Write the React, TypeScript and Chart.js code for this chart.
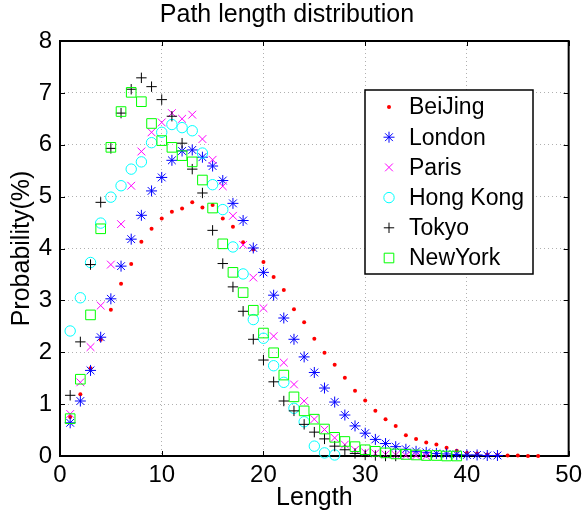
import React, { useEffect, useRef } from 'react';
import { Chart, registerables } from 'chart.js';

Chart.register(...registerables);

const cities = ['BeiJing', 'London', 'Paris', 'Hong Kong', 'Tokyo', 'NewYork'];

const beijing = [0.75, 1.19, 1.69, 2.24, 2.82, 3.32, 3.70, 4.13, 4.38, 4.58, 4.71, 4.77, 4.89, 4.79, 4.84, 4.58, 4.42, 4.12, 3.98, 3.74, 3.45, 3.20, 2.83, 2.58, 2.26, 1.99, 1.76, 1.51, 1.26, 1.07, 0.87, 0.71, 0.58, 0.40, 0.33, 0.26, 0.22, 0.16, 0.10, 0.06, 0.05, 0.03, 0.02, 0.01, 0.01, 0.0, 0.0];
const london = [0.64, 1.06, 1.65, 2.29, 3.03, 3.66, 4.18, 4.64, 5.11, 5.37, 5.70, 5.88, 5.90, 5.76, 5.59, 5.31, 4.87, 4.54, 4.01, 3.54, 3.10, 2.66, 2.25, 1.91, 1.61, 1.31, 1.04, 0.79, 0.58, 0.44, 0.32, 0.24, 0.18, 0.13, 0.09, 0.07, 0.05, 0.04, 0.03, 0.02, 0.02, 0.01, 0.01];
const paris = [0.81, 1.42, 2.10, 2.90, 3.69, 4.47, 5.21, 5.87, 6.24, 6.43, 6.61, 6.50, 6.58, 6.11, 5.71, 5.20, 4.63, 4.07, 3.44, 2.85, 2.31, 1.80, 1.38, 1.06, 0.71, 0.51, 0.35, 0.22, 0.12, 0.07, 0.05, 0.03, 0.02, 0.01, 0.01, 0.0];
const hongKong = [2.41, 3.05, 3.73, 4.49, 4.99, 5.21, 5.53, 5.67, 6.04, 6.24, 6.39, 6.33, 6.27, 5.84, 5.23, 4.75, 4.03, 3.51, 2.63, 2.27, 1.74, 1.42, 0.92, 0.66, 0.19, 0.06, 0.02];
const tokyo = [1.17, 2.20, 3.69, 4.89, 5.93, 6.61, 7.07, 7.29, 7.12, 6.87, 6.55, 6.03, 5.53, 5.07, 4.35, 3.71, 3.26, 2.79, 2.25, 1.85, 1.43, 1.06, 0.87, 0.61, 0.46, 0.33, 0.19, 0.12, 0.05, 0.02, 0.01, 0.0, 0.0];
const newYork = [0.72, 1.48, 2.72, 4.38, 5.95, 6.64, 7.01, 6.83, 6.41, 6.08, 5.95, 5.79, 5.67, 5.32, 4.78, 4.09, 3.54, 3.15, 2.81, 2.37, 1.99, 1.56, 1.14, 0.87, 0.71, 0.52, 0.36, 0.28, 0.18, 0.12, 0.09, 0.06, 0.04, 0.03, 0.02, 0.01, 0.01, 0.0, 0.0];

const seriesValues = [beijing, london, paris, hongKong, tokyo, newYork];
const xTickValues = [0, 10, 20, 30, 40, 50];
const yTickValues = [0, 1, 2, 3, 4, 5, 6, 7, 8];

const FONT = '"Liberation Sans", Arial, Helvetica, sans-serif';

const styles = [
  { color: '#ff0000', pointStyle: 'circle', radius: 2, fill: true },
  { color: '#0000ff', pointStyle: 'star', radius: 5.5, fill: false },
  { color: '#ff00ff', pointStyle: 'crossRot', radius: 5.5, fill: false },
  { color: '#00ffff', pointStyle: 'circle', radius: 5.2, fill: false },
  { color: '#000000', pointStyle: 'cross', radius: 5.2, fill: false },
  { color: '#00ff00', pointStyle: 'rect', radius: 6.8, fill: false },
];

function drawMarker(ctx: CanvasRenderingContext2D, style: string, x: number, y: number, r: number, color: string, fill: boolean) {
  ctx.save();
  ctx.strokeStyle = color;
  ctx.fillStyle = color;
  ctx.lineWidth = 1;
  ctx.beginPath();
  const d = r * Math.SQRT1_2;
  if (style === 'circle') {
    ctx.arc(x, y, r, 0, Math.PI * 2);
    if (fill) ctx.fill(); else ctx.stroke();
  } else if (style === 'rect') {
    ctx.rect(x - d, y - d, 2 * d, 2 * d);
    ctx.stroke();
  } else {
    if (style === 'cross' || style === 'star') {
      ctx.moveTo(x, y - r); ctx.lineTo(x, y + r);
      ctx.moveTo(x - r, y); ctx.lineTo(x + r, y);
    }
    if (style === 'crossRot' || style === 'star') {
      ctx.moveTo(x - d, y - d); ctx.lineTo(x + d, y + d);
      ctx.moveTo(x - d, y + d); ctx.lineTo(x + d, y - d);
    }
    ctx.stroke();
  }
  ctx.restore();
}

const framePlugin = {
  id: 'frameAndTicks',
  beforeDatasetsDraw(chart: any) {
    const { ctx, chartArea } = chart;
    const { left, right, top, bottom } = chartArea;
    const xs = chart.scales.x;
    const ys = chart.scales.y;
    ctx.save();
    ctx.strokeStyle = '#000';
    ctx.lineWidth = 1;
    const tl = 5;
    ctx.beginPath();
    xTickValues.forEach((v) => {
      const px = Math.round(xs.getPixelForValue(v)) + 0.5;
      ctx.moveTo(px, bottom); ctx.lineTo(px, bottom - tl);
      ctx.moveTo(px, top); ctx.lineTo(px, top + tl);
    });
    yTickValues.forEach((v) => {
      const py = Math.round(ys.getPixelForValue(v)) + 0.5;
      ctx.moveTo(left, py); ctx.lineTo(left + tl, py);
      ctx.moveTo(right, py); ctx.lineTo(right - tl, py);
    });
    ctx.stroke();
    ctx.lineWidth = 2;
    ctx.strokeRect(left, top, right - left, bottom - top);
    ctx.restore();
  },
  afterDraw(chart: any) {
    const { ctx } = chart;
    const bx = 365, by = 90, bw = 168, bh = 184;
    ctx.save();
    ctx.fillStyle = '#fff';
    ctx.fillRect(bx, by, bw, bh);
    ctx.strokeStyle = '#000';
    ctx.lineWidth = 1.5;
    ctx.strokeRect(bx, by, bw, bh);
    ctx.font = '23px ' + FONT;
    ctx.textBaseline = 'middle';
    ctx.textAlign = 'left';
    chart.data.datasets.forEach((ds: any, i: number) => {
      const y = by + 17 + i * 30.2;
      const s = styles[i];
      drawMarker(ctx, s.pointStyle, bx + 24, y, s.radius, s.color, s.fill);
      ctx.fillStyle = '#000';
      ctx.fillText(ds.label, bx + 44, y + 1);
    });
    ctx.restore();
  },
};

export default function App() {
  const ref = useRef<HTMLCanvasElement | null>(null);
  useEffect(() => {
    if (!ref.current) return;
    const datasets = seriesValues.map((vals, i) => {
      const s = styles[i];
      return {
        label: cities[i],
        data: vals.map((v, j) => ({ x: j + 1, y: v })),
        pointStyle: s.pointStyle,
        pointRadius: s.radius,
        pointHoverRadius: s.radius,
        borderColor: s.color,
        backgroundColor: s.fill ? s.color : 'rgba(0,0,0,0)',
        pointBorderWidth: s.fill ? 0 : 1,
        borderWidth: s.fill ? 0 : 1,
        showLine: false,
        clip: false as any,
        order: seriesValues.length - i,
      };
    });
    const chart = new Chart(ref.current, {
      type: 'scatter',
      data: { datasets },
      options: {
        animation: false,
        responsive: false,
        devicePixelRatio: 1,
        layout: { padding: { left: 0, right: 13, top: 0, bottom: 0 } },
        plugins: {
          legend: { display: false },
          tooltip: { enabled: false },
          title: {
            display: true,
            text: 'Path length distribution',
            color: '#000',
            font: { family: FONT, size: 25, weight: 'normal', lineHeight: 1.1 },
            padding: { top: 1, bottom: 12.5 },
          },
        },
        scales: {
          x: {
            type: 'linear',
            min: 0,
            max: 50,
            afterFit: (scale: any) => { scale.height = 60; },
            afterBuildTicks: (scale: any) => { scale.ticks = xTickValues.map((v) => ({ value: v })); },
            ticks: { color: '#000', font: { family: FONT, size: 24 }, padding: 5, maxRotation: 0 },
            grid: { color: '#b0b0b0', lineWidth: 1, drawTicks: false },
            border: { display: false, dash: [1, 3] },
            title: { display: true, text: 'Length', color: '#000', font: { family: FONT, size: 25, lineHeight: 1.2 }, padding: { top: 0, bottom: 3 } },
          },
          y: {
            type: 'linear',
            min: 0,
            max: 8,
            afterFit: (scale: any) => { scale.width = 60; },
            afterBuildTicks: (scale: any) => { scale.ticks = yTickValues.map((v) => ({ value: v })); },
            ticks: { color: '#000', font: { family: FONT, size: 24 }, padding: 8 },
            grid: { color: '#b0b0b0', lineWidth: 1, drawTicks: false },
            border: { display: false, dash: [1, 3] },
            title: { display: true, text: 'Probability(%)', color: '#000', font: { family: FONT, size: 25, lineHeight: 1.2 }, padding: { top: 7.5, bottom: 0 } },
          },
        },
      },
      plugins: [framePlugin],
    } as any);
    return () => chart.destroy();
  }, []);
  return (
    <div style={{ position: 'absolute', left: 0, top: 0, width: 587, height: 516, background: '#fff' }}>
      <canvas ref={ref} width={587} height={516} style={{ display: 'block', width: 587, height: 516 }} />
    </div>
  );
}
